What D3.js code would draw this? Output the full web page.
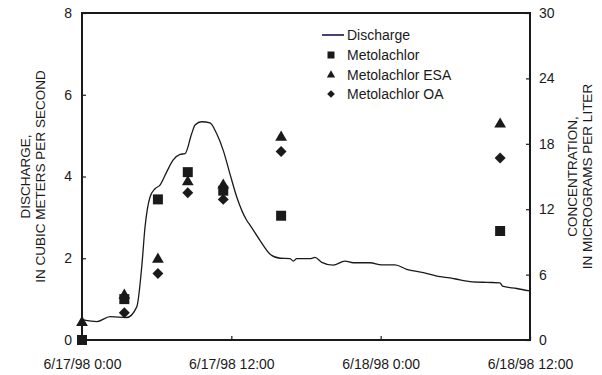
<!DOCTYPE html>
<html>
<head>
<meta charset="utf-8">
<script src="https://cdn.jsdelivr.net/npm/d3@7"></script>
<style>
  body { margin: 0; background: #fff; }
  svg text { font-family: "Liberation Sans", Arial, sans-serif; fill: #1a1a1a; }
</style>
</head>
<body>
<script>
var w = 602;
var h = 375;

// hours after 6/17/98 0:00
var dischargeHours = [0.1, 1.2, 2.25, 3.6, 4.4, 4.8, 5.06, 5.46, 5.87, 6.27, 6.81, 7.31, 7.88, 8.28, 8.82, 9.08, 9.62, 10.29, 10.82, 11.35, 11.89, 12.43, 13.24, 13.5, 14.3, 15.11, 15.91, 16.71, 16.98, 17.25, 18.32, 18.72, 19.26, 20.19, 21.13, 21.8, 23.14, 24.08, 25.15, 26.09, 27.43, 28.77, 29.57, 30.38, 31.18, 32.52, 33.59, 33.78, 34.93, 35.95];
var dischargeValues = [0.49, 0.45, 0.57, 0.55, 0.81, 1.79, 2.77, 3.5, 3.7, 3.79, 4.12, 4.4, 4.54, 4.56, 5.05, 5.26, 5.34, 5.31, 5.05, 4.64, 4.07, 3.5, 2.93, 2.81, 2.44, 2.1, 2.0, 1.99, 1.93, 1.99, 1.99, 2.02, 1.9, 1.83, 1.93, 1.89, 1.89, 1.84, 1.84, 1.73, 1.65, 1.55, 1.52, 1.47, 1.43, 1.41, 1.4, 1.32, 1.26, 1.2];

var sampleHours = [0, 3.4, 6.1, 8.5, 11.35, 16.0, 33.6];
var metolachlor = [0, 3.75, 12.9, 15.4, 13.7, 11.4, 10.0];
var metolachlorESA = [1.6, 4.1, 7.4, 14.5, 14.2, 18.6, 19.8];
var metolachlorOA = [null, 2.5, 6.1, 13.5, 12.9, 17.3, 16.7];

var xTicks = ['6/17/98 0:00', '6/17/98 12:00', '6/18/98 0:00', '6/18/98 12:00'];
var leftTicks = [0, 2, 4, 6, 8];
var rightTicks = [0, 6, 12, 18, 24, 30];

var start = new Date(1998, 5, 17, 0, 0);
var parseTime = d3.timeParse('%m/%d/%y %H:%M');
function atHour(hr) { return d3.timeMinute.offset(start, Math.round(hr * 60)); }

var margin = { left: 82, right: 530, top: 13, bottom: 340 };

var x = d3.scaleTime().domain([start, parseTime(xTicks[3])]).range([margin.left, margin.right]);
var yL = d3.scaleLinear().domain([0, 8]).range([margin.bottom, margin.top]);
var yR = d3.scaleLinear().domain([0, 30]).range([margin.bottom, margin.top]);

var svg = d3.select('body')
	.append('svg')
	.attr('width', w)
	.attr('height', h);

// axes
var fmt = d3.timeFormat('%-m/%-d/%y %-H:%M');

var gx = svg.append('g')
	.attr('transform', 'translate(0,' + margin.bottom + ')')
	.call(d3.axisBottom(x).tickValues(xTicks.map(parseTime)).tickFormat(fmt).tickSize(-4).tickPadding(19));

var gl = svg.append('g')
	.attr('transform', 'translate(' + margin.left + ',0)')
	.call(d3.axisLeft(yL).tickValues(leftTicks).tickSize(-4).tickPadding(10));

var gr = svg.append('g')
	.attr('transform', 'translate(' + margin.right + ',0)')
	.call(d3.axisRight(yR).tickValues(rightTicks).tickSize(-4).tickPadding(9));

[gx, gl, gr].forEach(function(g) {
	g.select('.domain').remove();
	g.selectAll('text').style('font-size', '14px').attr('fill', '#1a1a1a');
	g.selectAll('.tick line').attr('stroke', '#1a1a1a').attr('stroke-width', 1.2);
});

svg.append('rect')
	.attr('x', margin.left)
	.attr('y', margin.top)
	.attr('width', margin.right - margin.left)
	.attr('height', margin.bottom - margin.top)
	.attr('fill', 'none')
	.attr('stroke', '#1a1a1a')
	.attr('stroke-width', 2);

// axis titles
var midY = (margin.top + margin.bottom) / 2;
function vTitle(cx, txt) {
	svg.append('text')
		.attr('transform', 'translate(' + cx + ',' + midY + ') rotate(-90)')
		.attr('text-anchor', 'middle')
		.attr('dy', '0.35em')
		.style('font-size', '13.5px')
		.text(txt);
}
vTitle(25, 'DISCHARGE,');
vTitle(40, 'IN CUBIC METERS PER SECOND');
vTitle(572, 'CONCENTRATION,');
vTitle(587, 'IN MICROGRAMS PER LITER');

// discharge line
var line = d3.line()
	.x(function(d, i) { return x(atHour(dischargeHours[i])); })
	.y(function(d) { return yL(d); })
	.curve(d3.curveMonotoneX);

svg.append('path')
	.datum(dischargeValues)
	.attr('d', line)
	.attr('fill', 'none')
	.attr('stroke', '#1a1a1a')
	.attr('stroke-width', 1.3);

// sample markers
var series = [
	{ vals: metolachlorESA, type: d3.symbolTriangle, size: 60, rot: 0 },
	{ vals: metolachlor, type: d3.symbolSquare, size: 100, rot: 0 },
	{ vals: metolachlorOA, type: d3.symbolSquare, size: 60, rot: 45 }
];

series.forEach(function(s) {
	svg.append('g').selectAll('path')
		.data(s.vals.map(function(v, i) { return [sampleHours[i], v]; }).filter(function(d) { return d[1] != null; }))
		.enter()
		.append('path')
		.attr('d', d3.symbol().type(s.type).size(s.size))
		.attr('transform', function(d) { return 'translate(' + x(atHour(d[0])) + ',' + yR(d[1]) + ') rotate(' + s.rot + ')'; })
		.attr('fill', '#1a1a1a');
});

// legend
var legend = svg.append('g');
var legendRows = ['Discharge', 'Metolachlor', 'Metolachlor ESA', 'Metolachlor OA'];
var legendY = [35, 55, 75, 94];

legend.append('line')
	.attr('x1', 322).attr('x2', 344)
	.attr('y1', legendY[0]).attr('y2', legendY[0])
	.attr('stroke', '#454275')
	.attr('stroke-width', 2);

legend.append('path').attr('d', d3.symbol().type(d3.symbolSquare).size(49)).attr('transform', 'translate(331,' + legendY[1] + ')').attr('fill', '#1a1a1a');
legend.append('path').attr('d', d3.symbol().type(d3.symbolTriangle).size(30)).attr('transform', 'translate(331,' + legendY[2] + ')').attr('fill', '#1a1a1a');
legend.append('path').attr('d', d3.symbol().type(d3.symbolSquare).size(30)).attr('transform', 'translate(331,' + legendY[3] + ') rotate(45)').attr('fill', '#1a1a1a');

legend.selectAll('text')
	.data(legendRows)
	.enter()
	.append('text')
	.attr('x', 347)
	.attr('y', function(d, i) { return legendY[i]; })
	.attr('dy', '0.35em')
	.style('font-size', '14px')
	.text(function(d) { return d; });
</script>
</body>
</html>
